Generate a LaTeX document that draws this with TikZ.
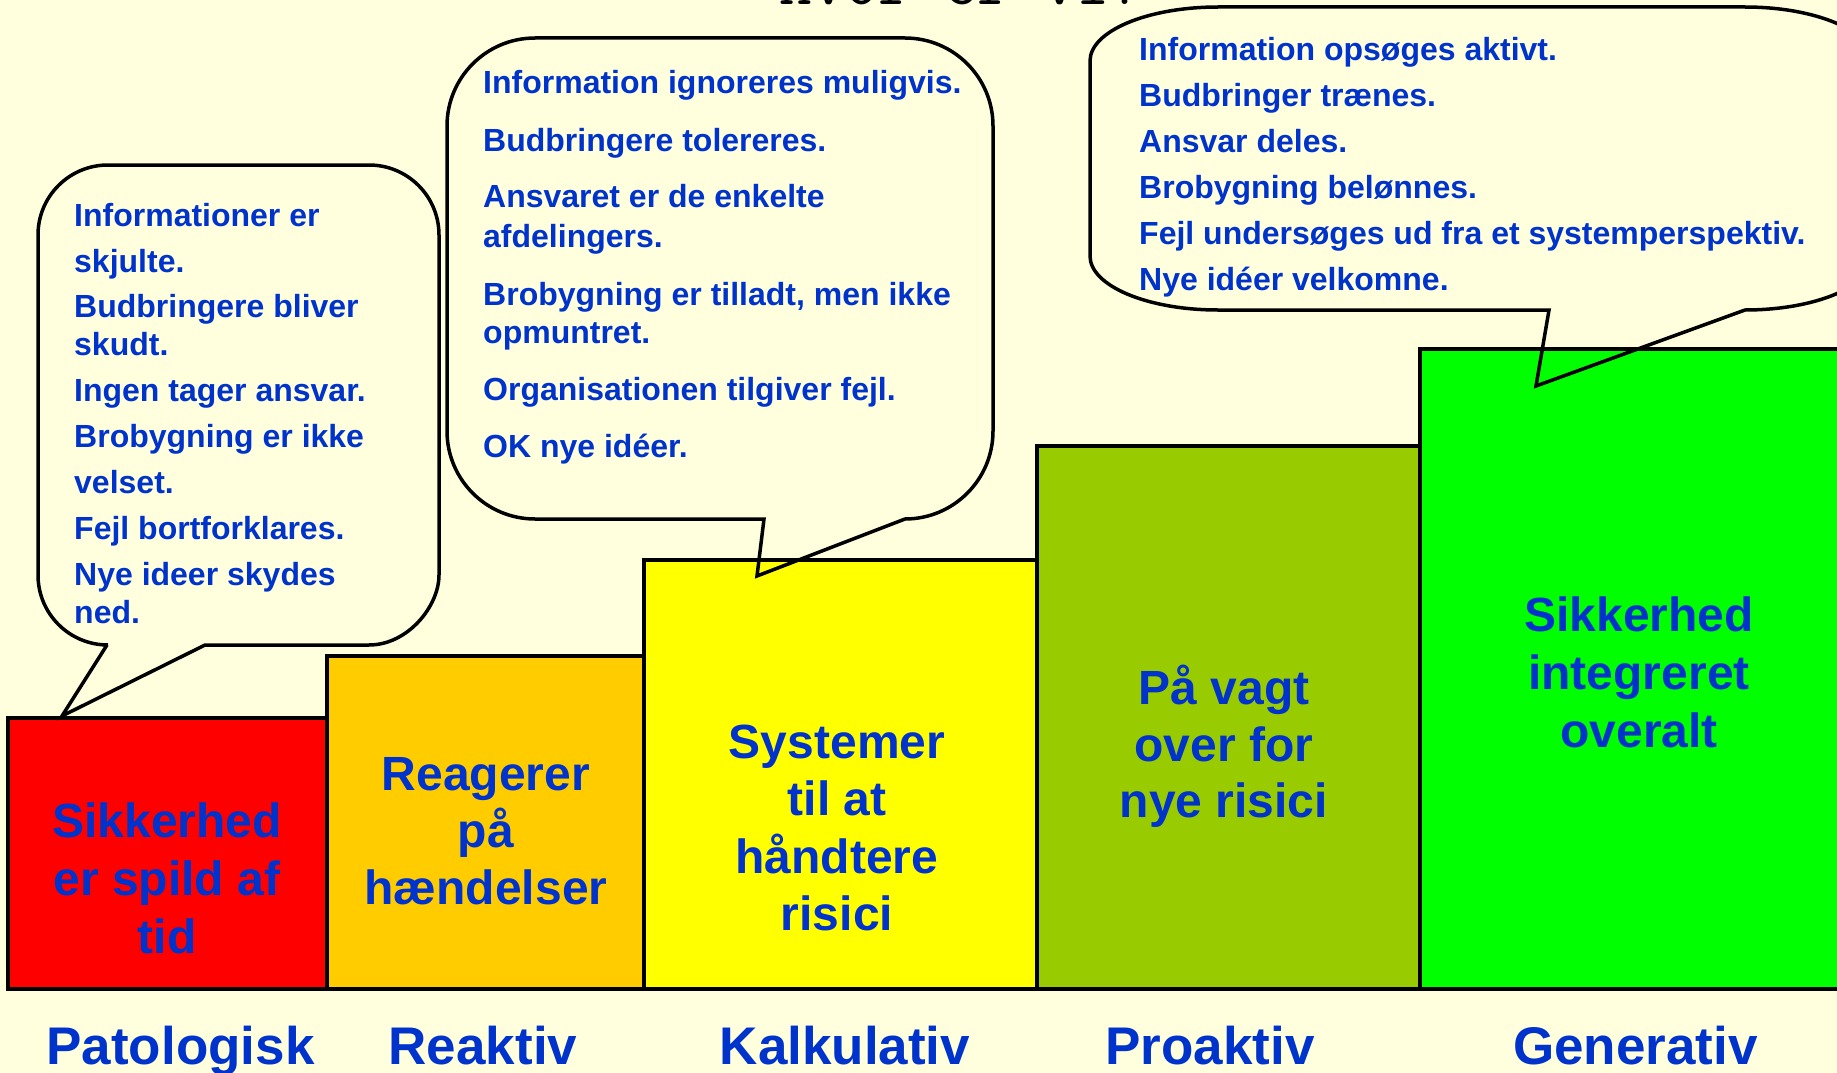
\documentclass[tikz,border=0pt]{standalone}
\usepackage{fontspec}
\setmainfont{Liberation Sans}
\definecolor{bgc}{RGB}{255,255,221}
\definecolor{txtblue}{RGB}{0,51,204}
\definecolor{cred}{RGB}{255,0,0}
\definecolor{corange}{RGB}{255,204,0}
\definecolor{cyellow}{RGB}{255,255,0}
\definecolor{colive}{RGB}{153,204,0}
\definecolor{cgreen}{RGB}{0,255,0}
\begin{document}
\begin{tikzpicture}[x=1pt,y=-1pt,
  box/.style={draw=black,line width=4pt},
  bubble/.style={draw=black,line width=3.5pt,line join=miter},
  ctext/.style={anchor=base west,inner sep=0pt,text=txtblue,font=\fontsize{32}{38}\selectfont\bfseries},
  btext/.style={anchor=base,inner sep=0pt,text=txtblue,font=\fontsize{48}{58}\selectfont\bfseries},
  ltext/.style={anchor=base,inner sep=0pt,text=txtblue,font=\fontsize{53}{64}\selectfont\bfseries},
  ttext/.style={anchor=base,inner sep=0pt,text=black,font={\ttfamily\fontsize{64}{70}\selectfont}}
]
\useasboundingbox (0,0) rectangle (1837,1073);
\fill[bgc] (0,0) rectangle (1837,1073);
\begin{scope}
\clip (0,0) rectangle (1837,1073);
% title
\node[ttext] (title) at (961,5) {Hvor er vi?};
% boxes
\draw[box,fill=cred] (8,718) rectangle (327,989);
\draw[box,fill=corange] (327,656) rectangle (644,989);
\draw[box,fill=cyellow] (644,560) rectangle (1037,989);
\draw[box,fill=colive] (1037,446) rectangle (1420,989);
\draw[box,fill=cgreen] (1420,349) rectangle (1860,989);
% left bubble
\draw[bubble] (107,645) -- (62,716) -- (205,645) -- (369,645)
  .. controls (407.7,645) and (439,606.3) .. (439,575)
  -- (439,235)
  .. controls (439,196.3) and (407.7,165) .. (369,165)
  -- (108,165)
  .. controls (69.3,165) and (38,196.3) .. (38,235)
  -- (38,575)
  .. controls (38,613.7) and (69.3,645) .. (108,645)
  -- cycle;
% middle bubble
\draw[bubble] (764,519) -- (757,576) -- (905,519)
  .. controls (953.6,519) and (993,479.6) .. (993,431)
  -- (993,126)
  .. controls (993,77.4) and (953.6,38) .. (905,38)
  -- (535,38)
  .. controls (486.4,38) and (447,77.4) .. (447,126)
  -- (447,431)
  .. controls (447,479.6) and (486.4,519) .. (535,519)
  -- cycle;
% right bubble
\draw[bubble] (1549,310) -- (1536,386) -- (1745,310)
  .. controls (1815.7,310) and (1873,285.8) .. (1873,256)
  -- (1873,61)
  .. controls (1873,31.2) and (1815.7,7) .. (1745,7)
  -- (1218,7)
  .. controls (1147.3,7) and (1090,31.2) .. (1090,61)
  -- (1090,256)
  .. controls (1090,285.8) and (1147.3,310) .. (1218,310)
  -- cycle;
% left bubble text
\foreach \y/\t [count=\i] in {226/Informationer er,272/skjulte.,317/Budbringere bliver,355/skudt.,401.6/Ingen tager ansvar.,447/Brobygning er ikke,493/velset.,539.6/Fejl bortforklares.,585/Nye ideer skydes,623.5/ned.}
  \node[ctext] (pa\i) at (74,\y) {\t};
% middle bubble text
\foreach \y/\t [count=\i] in {93.6/Information ignoreres muligvis.,151/Budbringere tolereres.,207.5/Ansvaret er de enkelte,247/afdelingers.,305/{Brobygning er tilladt, men ikke},343/opmuntret.,400/Organisationen tilgiver fejl.,457.5/OK nye idéer.}
  \node[ctext] (ka\i) at (483,\y) {\t};
% right bubble text
\foreach \y/\t [count=\i] in {60.7/Information opsøges aktivt.,106.7/Budbringer trænes.,152/Ansvar deles.,198/Brobygning belønnes.,244/Fejl undersøges ud fra et systemperspektiv.,290/Nye idéer velkomne.}
  \node[ctext] (ge\i) at (1139,\y) {\t};
% box labels
\foreach \y/\t [count=\i] in {837/Sikkerhed,895/er spild af,953/tid}
  \node[btext] (rl\i) at (167,\y) {\t};
\foreach \y/\t [count=\i] in {790/Reagerer,847/på,904/hændelser}
  \node[btext] (ol\i) at (486,\y) {\t};
\foreach \y/\t [count=\i] in {758/Systemer,815/til at,873/håndtere,930/risici}
  \node[btext] (yl\i) at (837,\y) {\t};
\foreach \y/\t [count=\i] in {704/På vagt,761/over for,817/nye risici}
  \node[btext] (vl\i) at (1224,\y) {\t};
\foreach \y/\t [count=\i] in {631/Sikkerhed,689/integreret,747/overalt}
  \node[btext] (gl\i) at (1639,\y) {\t};
% bottom labels
\node[ltext] (patologisk) at (180.5,1064) {Patologisk};
\node[ltext] (reaktiv) at (483,1064) {Reaktiv};
\node[ltext] (kalkulativ) at (845,1064) {Kalkulativ};
\node[ltext] (proaktiv) at (1210,1064) {Proaktiv};
\node[ltext] (generativ) at (1635.5,1064) {Generativ};
\end{scope}
\end{tikzpicture}
\end{document}
